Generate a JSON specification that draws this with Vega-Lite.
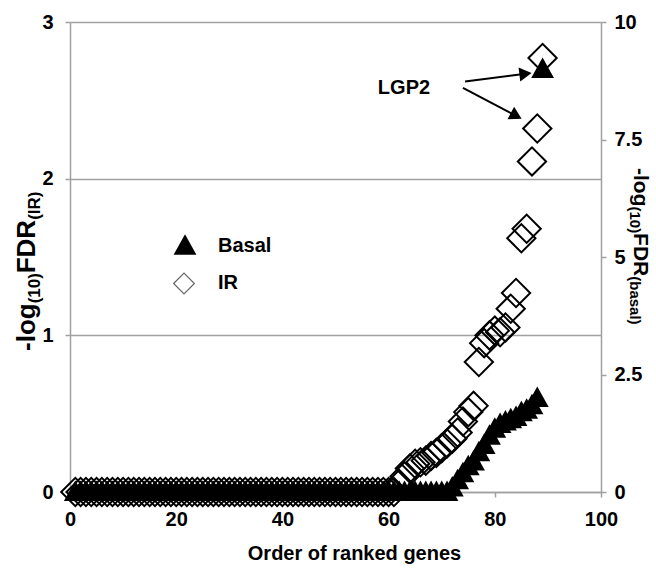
{
  "$schema": "https://vega.github.io/schema/vega-lite/v6.json",
  "width": 531,
  "height": 470,
  "autosize": {"type": "none"},
  "padding": {"left": 70, "top": 22, "right": 55, "bottom": 77},
  "background": "white",
  "config": {
    "font": "Liberation Sans",
    "view": {"stroke": null},
    "axis": {
      "labelFont": "Liberation Sans",
      "labelFontWeight": "bold",
      "labelFontSize": 20,
      "labelColor": "black",
      "domainColor": "#a0a0a0",
      "tickColor": "#a0a0a0",
      "domainWidth": 1.5,
      "tickWidth": 1.5,
      "gridColor": "#a0a0a0",
      "gridWidth": 1.5,
      "tickSize": 5
    }
  },
  "data": {"values": [
    {"gene":1,"IR":0,"Basal":0},{"gene":2,"IR":0,"Basal":0},{"gene":3,"IR":0,"Basal":0},{"gene":4,"IR":0,"Basal":0},{"gene":5,"IR":0,"Basal":0},
    {"gene":6,"IR":0,"Basal":0},{"gene":7,"IR":0,"Basal":0},{"gene":8,"IR":0,"Basal":0},{"gene":9,"IR":0,"Basal":0},{"gene":10,"IR":0,"Basal":0},
    {"gene":11,"IR":0,"Basal":0},{"gene":12,"IR":0,"Basal":0},{"gene":13,"IR":0,"Basal":0},{"gene":14,"IR":0,"Basal":0},{"gene":15,"IR":0,"Basal":0},
    {"gene":16,"IR":0,"Basal":0},{"gene":17,"IR":0,"Basal":0},{"gene":18,"IR":0,"Basal":0},{"gene":19,"IR":0,"Basal":0},{"gene":20,"IR":0,"Basal":0},
    {"gene":21,"IR":0,"Basal":0},{"gene":22,"IR":0,"Basal":0},{"gene":23,"IR":0,"Basal":0},{"gene":24,"IR":0,"Basal":0},{"gene":25,"IR":0,"Basal":0},
    {"gene":26,"IR":0,"Basal":0},{"gene":27,"IR":0,"Basal":0},{"gene":28,"IR":0,"Basal":0},{"gene":29,"IR":0,"Basal":0},{"gene":30,"IR":0,"Basal":0},
    {"gene":31,"IR":0,"Basal":0},{"gene":32,"IR":0,"Basal":0},{"gene":33,"IR":0,"Basal":0},{"gene":34,"IR":0,"Basal":0},{"gene":35,"IR":0,"Basal":0},
    {"gene":36,"IR":0,"Basal":0},{"gene":37,"IR":0,"Basal":0},{"gene":38,"IR":0,"Basal":0},{"gene":39,"IR":0,"Basal":0},{"gene":40,"IR":0,"Basal":0},
    {"gene":41,"IR":0,"Basal":0},{"gene":42,"IR":0,"Basal":0},{"gene":43,"IR":0,"Basal":0},{"gene":44,"IR":0,"Basal":0},{"gene":45,"IR":0,"Basal":0},
    {"gene":46,"IR":0,"Basal":0},{"gene":47,"IR":0,"Basal":0},{"gene":48,"IR":0,"Basal":0},{"gene":49,"IR":0,"Basal":0},{"gene":50,"IR":0,"Basal":0},
    {"gene":51,"IR":0,"Basal":0},{"gene":52,"IR":0,"Basal":0},{"gene":53,"IR":0,"Basal":0},{"gene":54,"IR":0,"Basal":0},{"gene":55,"IR":0,"Basal":0},
    {"gene":56,"IR":0,"Basal":0},{"gene":57,"IR":0,"Basal":0},{"gene":58,"IR":0,"Basal":0},{"gene":59,"IR":0,"Basal":0},{"gene":60,"IR":0,"Basal":0},
    {"gene":61,"IR":0,"Basal":0},{"gene":62,"IR":0.05,"Basal":0},{"gene":63,"IR":0.1,"Basal":0},{"gene":64,"IR":0.15,"Basal":0},{"gene":65,"IR":0.18,"Basal":0},
    {"gene":66,"IR":0.19,"Basal":0},{"gene":67,"IR":0.2,"Basal":0},{"gene":68,"IR":0.23,"Basal":0},{"gene":69,"IR":0.25,"Basal":0},{"gene":70,"IR":0.28,"Basal":0},
    {"gene":71,"IR":0.31,"Basal":0},{"gene":72,"IR":0.34,"Basal":0.1},{"gene":73,"IR":0.38,"Basal":0.25},{"gene":74,"IR":0.45,"Basal":0.4},{"gene":75,"IR":0.51,"Basal":0.55},
    {"gene":76,"IR":0.55,"Basal":0.65},{"gene":77,"IR":0.83,"Basal":0.85},{"gene":78,"IR":0.95,"Basal":1.0},{"gene":79,"IR":1.0,"Basal":1.2},{"gene":80,"IR":1.03,"Basal":1.35},
    {"gene":81,"IR":1.02,"Basal":1.45},{"gene":82,"IR":1.05,"Basal":1.5},{"gene":83,"IR":1.17,"Basal":1.55},{"gene":84,"IR":1.27,"Basal":1.6},{"gene":85,"IR":1.62,"Basal":1.7},
    {"gene":86,"IR":1.68,"Basal":1.75},{"gene":87,"IR":2.11,"Basal":1.85},{"gene":88,"IR":2.32,"Basal":2.0},{"gene":89,"IR":2.77,"Basal":9.0}
  ]},
  "layer": [
    {
      "layer": [
        {
          "mark": {"type": "point", "shape": "diamond", "filled": false, "stroke": "black", "size": 800, "strokeWidth": 2, "opacity": 1},
          "encoding": {
            "x": {"field": "gene", "type": "quantitative",
                  "scale": {"domain": [0, 100], "nice": false},
                  "axis": {"values": [0, 20, 40, 60, 80, 100], "grid": false, "labelPadding": 12, "labelFlush": false,
                           "title": "Order of ranked genes", "titleFont": "Liberation Sans", "titleFontSize": 20,
                           "titleFontWeight": "bold", "titleColor": "black", "titlePadding": 14,
                           "titleX": 284, "titleAlign": "center"}},
            "y": {"field": "IR", "type": "quantitative",
                  "scale": {"domain": [0, 3], "nice": false},
                  "axis": {"values": [0, 1, 2, 3], "format": "d", "grid": true, "labelPadding": 12, "title": null}}
          }
        },
        {
          "data": {"values": [{}]},
          "mark": {"type": "point", "shape": "M0,-1L1,0.8L-1,0.8Z", "filled": true, "color": "black", "opacity": 1, "size": 520},
          "encoding": {
            "x": {"datum": 21.66, "type": "quantitative"},
            "y": {"datum": 1.573, "type": "quantitative"}
          }
        },
        {
          "data": {"values": [{}]},
          "mark": {"type": "point", "shape": "diamond", "filled": false, "stroke": "#666666", "strokeWidth": 1.2, "opacity": 1, "size": 430},
          "encoding": {
            "x": {"datum": 21.47, "type": "quantitative"},
            "y": {"datum": 1.331, "type": "quantitative"}
          }
        },
        {
          "data": {"values": [{}]},
          "mark": {"type": "text", "font": "Liberation Sans", "fontWeight": "bold", "fontSize": 20, "color": "black", "align": "left", "baseline": "middle"},
          "encoding": {
            "x": {"datum": 27.87, "type": "quantitative"},
            "y": {"datum": 1.573, "type": "quantitative"},
            "text": {"value": "Basal"}
          }
        },
        {
          "data": {"values": [{}]},
          "mark": {"type": "text", "font": "Liberation Sans", "fontWeight": "bold", "fontSize": 20, "color": "black", "align": "left", "baseline": "middle"},
          "encoding": {
            "x": {"datum": 27.87, "type": "quantitative"},
            "y": {"datum": 1.331, "type": "quantitative"},
            "text": {"value": "IR"}
          }
        },
        {
          "data": {"values": [{}]},
          "mark": {"type": "text", "font": "Liberation Sans", "fontWeight": "bold", "fontSize": 20, "color": "black", "align": "center", "baseline": "middle"},
          "encoding": {
            "x": {"datum": 62.9, "type": "quantitative"},
            "y": {"datum": 2.58, "type": "quantitative"},
            "text": {"value": "LGP2"}
          }
        },
        {
          "data": {"values": [{}]},
          "mark": {"type": "rule", "color": "black", "strokeWidth": 2},
          "encoding": {
            "x": {"datum": 74.4, "type": "quantitative"},
            "y": {"datum": 2.62, "type": "quantitative"},
            "x2": {"datum": 85.78},
            "y2": {"datum": 2.67}
          }
        },
        {
          "data": {"values": [{}]},
          "mark": {"type": "rule", "color": "black", "strokeWidth": 2},
          "encoding": {
            "x": {"datum": 74.0, "type": "quantitative"},
            "y": {"datum": 2.58, "type": "quantitative"},
            "x2": {"datum": 84.03},
            "y2": {"datum": 2.401}
          }
        },
        {
          "data": {"values": [{}]},
          "mark": {"type": "point", "shape": "triangle-right", "filled": true, "color": "black", "opacity": 1, "size": 200, "angle": 353},
          "encoding": {
            "x": {"datum": 85.78, "type": "quantitative"},
            "y": {"datum": 2.67, "type": "quantitative"}
          }
        },
        {
          "data": {"values": [{}]},
          "mark": {"type": "point", "shape": "triangle-right", "filled": true, "color": "black", "opacity": 1, "size": 200, "angle": 28},
          "encoding": {
            "x": {"datum": 84.03, "type": "quantitative"},
            "y": {"datum": 2.401, "type": "quantitative"}
          }
        },
        {
          "data": {"values": [{}]},
          "mark": {"type": "text", "angle": 270, "align": "left", "baseline": "alphabetic", "font": "Liberation Sans", "fontWeight": "bold", "fontSize": 26, "color": "black"},
          "encoding": {
            "x": {"datum": -6.5, "type": "quantitative"},
            "y": {"datum": 0.9, "type": "quantitative"},
            "text": {"value": "-log"}
          }
        },
        {
          "data": {"values": [{}]},
          "mark": {"type": "text", "angle": 270, "align": "left", "baseline": "alphabetic", "font": "Liberation Sans", "fontWeight": "bold", "fontSize": 17, "color": "black"},
          "encoding": {
            "x": {"datum": -5.74, "type": "quantitative"},
            "y": {"datum": 1.204, "type": "quantitative"},
            "text": {"value": "(10)"}
          }
        },
        {
          "data": {"values": [{}]},
          "mark": {"type": "text", "angle": 270, "align": "left", "baseline": "alphabetic", "font": "Liberation Sans", "fontWeight": "bold", "fontSize": 26, "color": "black"},
          "encoding": {
            "x": {"datum": -6.5, "type": "quantitative"},
            "y": {"datum": 1.396, "type": "quantitative"},
            "text": {"value": "FDR"}
          }
        },
        {
          "data": {"values": [{}]},
          "mark": {"type": "text", "angle": 270, "align": "left", "baseline": "alphabetic", "font": "Liberation Sans", "fontWeight": "bold", "fontSize": 17, "color": "black"},
          "encoding": {
            "x": {"datum": -5.74, "type": "quantitative"},
            "y": {"datum": 1.737, "type": "quantitative"},
            "text": {"value": "(IR)"}
          }
        }
      ]
    },
    {
      "layer": [
        {
          "mark": {"type": "point", "shape": "M0,-1L1,0.8L-1,0.8Z", "filled": true, "color": "black", "size": 520, "opacity": 1},
          "encoding": {
            "x": {"field": "gene", "type": "quantitative", "scale": {"domain": [0, 100], "nice": false}},
            "y": {"field": "Basal", "type": "quantitative",
                  "scale": {"domain": [0, 10], "nice": false},
                  "axis": {"orient": "right", "values": [0, 2.5, 5, 7.5, 10], "format": ".1~f", "grid": false, "labelPadding": 8, "title": null}}
          }
        },
        {
          "data": {"values": [{}]},
          "mark": {"type": "text", "angle": 90, "align": "left", "baseline": "alphabetic", "font": "Liberation Sans", "fontWeight": "bold", "fontSize": 21, "color": "black"},
          "encoding": {
            "x": {"datum": 106.2, "type": "quantitative"},
            "y": {"datum": 6.894, "type": "quantitative"},
            "text": {"value": "-log"}
          }
        },
        {
          "data": {"values": [{}]},
          "mark": {"type": "text", "angle": 90, "align": "left", "baseline": "alphabetic", "font": "Liberation Sans", "fontWeight": "bold", "fontSize": 15, "color": "black"},
          "encoding": {
            "x": {"datum": 105.46, "type": "quantitative"},
            "y": {"datum": 6.075, "type": "quantitative"},
            "text": {"value": "(10)"}
          }
        },
        {
          "data": {"values": [{}]},
          "mark": {"type": "text", "angle": 90, "align": "left", "baseline": "alphabetic", "font": "Liberation Sans", "fontWeight": "bold", "fontSize": 21, "color": "black"},
          "encoding": {
            "x": {"datum": 106.2, "type": "quantitative"},
            "y": {"datum": 5.508, "type": "quantitative"},
            "text": {"value": "FDR"}
          }
        },
        {
          "data": {"values": [{}]},
          "mark": {"type": "text", "angle": 90, "align": "left", "baseline": "alphabetic", "font": "Liberation Sans", "fontWeight": "bold", "fontSize": 15, "color": "black"},
          "encoding": {
            "x": {"datum": 105.46, "type": "quantitative"},
            "y": {"datum": 4.59, "type": "quantitative"},
            "text": {"value": "(basal)"}
          }
        }
      ]
    }
  ],
  "resolve": {"scale": {"y": "independent"}, "axis": {"y": "independent"}}
}
